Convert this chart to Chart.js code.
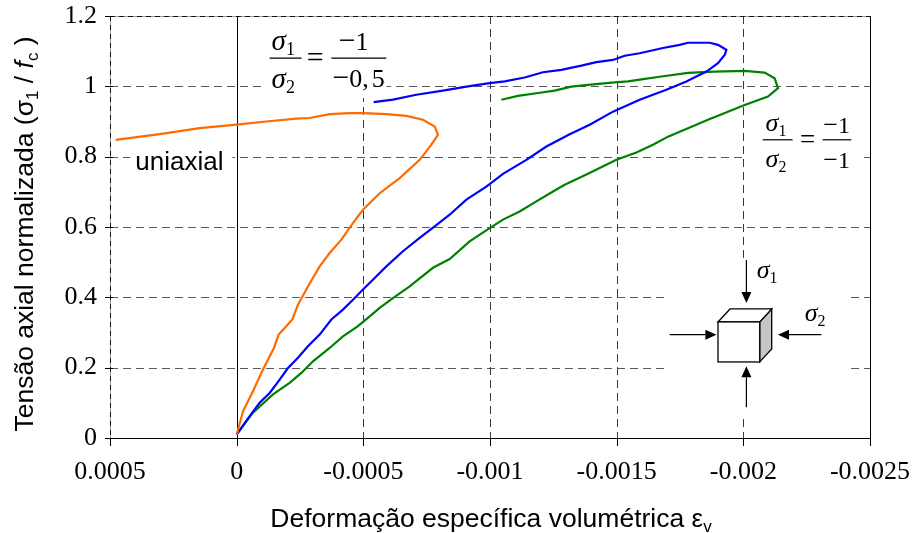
<!DOCTYPE html>
<html>
<head>
<meta charset="utf-8">
<script src="https://cdn.jsdelivr.net/npm/chart.js@4.4.1/dist/chart.umd.min.js"></script>
<style>
  html, body { margin: 0; padding: 0; background: #fff; }
  #wrap { width: 915px; height: 533px; }
</style>
</head>
<body>
<div id="wrap"><canvas id="c" width="915" height="533"></canvas></div>
<script>
// ---- tick values / labels ----
const xTickValues = [0.0005, 0, -0.0005, -0.001, -0.0015, -0.002, -0.0025];
const xTickLabels = ['0.0005', '0', '-0.0005', '-0.001', '-0.0015', '-0.002', '-0.0025'];
const yTickValues = [0, 0.2, 0.4, 0.6, 0.8, 1, 1.2];
const yTickLabels = ['0', '0.2', '0.4', '0.6', '0.8', '1', '1.2'];

// ---- series: uniaxial ----
const uniaxialX = [0, -0.0000249, -0.0000643, -0.0001038, -0.0001472, -0.0001658, -0.0001895, -0.0002199,
  -0.000242, -0.0002814, -0.0003276, -0.0003671, -0.0004133, -0.000459, -0.0004985, -0.0005645,
  -0.0006434, -0.0007224, -0.0007686, -0.0007946, -0.0007816, -0.0007354, -0.0006699, -0.0005909,
  -0.0004985, -0.0004461, -0.0003671, -0.0002882, -0.0002357, -0.0001172, 0.0000012, 0.0001461,
  0.0003039, 0.0004776];
const uniaxialY = [0.010, 0.076, 0.133, 0.195, 0.256, 0.294, 0.313, 0.337,
  0.379, 0.431, 0.488, 0.526, 0.564, 0.611, 0.649, 0.696,
  0.739, 0.791, 0.834, 0.862, 0.886, 0.905, 0.916, 0.921,
  0.924, 0.924, 0.921, 0.910, 0.908, 0.900, 0.891, 0.881,
  0.864, 0.848];

// ---- series: sigma1/sigma2 = -1/-0,5 ----
const ratio05X = [0, -0.0000513, -0.0000908, -0.0001303, -0.0001697, -0.0002025, -0.000242, -0.0002814,
  -0.0003276, -0.0003738, -0.0004196, -0.0004591, -0.0004986, -0.0005447, -0.0005909, -0.0006564,
  -0.0007224, -0.0007816, -0.0008408, -0.0009067, -0.0009856, -0.0010512, -0.0011436, -0.0012225,
  -0.0013145, -0.0013934, -0.0014854, -0.0015908, -0.0016962, -0.0017751, -0.0018541, -0.0018999,
  -0.0019263, -0.001933, -0.0018999, -0.0018671, -0.0017815, -0.0017487, -0.0016828, -0.0015908,
  -0.0015316, -0.0014854, -0.0014199, -0.0013607, -0.0012817, -0.0012091, -0.0011368, -0.0010579,
  -0.0009987, -0.0009067, -0.0008143, -0.0007093, -0.000617, -0.0005408];
const ratio05Y = [0.010, 0.062, 0.100, 0.128, 0.166, 0.199, 0.228, 0.261,
  0.294, 0.337, 0.365, 0.393, 0.422, 0.455, 0.488, 0.531,
  0.569, 0.602, 0.635, 0.678, 0.715, 0.751, 0.791, 0.829,
  0.864, 0.891, 0.928, 0.962, 0.990, 1.014, 1.042, 1.066,
  1.089, 1.104, 1.118, 1.124, 1.124, 1.118, 1.109, 1.094,
  1.087, 1.075, 1.069, 1.059, 1.047, 1.040, 1.025, 1.014,
  1.009, 0.999, 0.988, 0.976, 0.962, 0.955];

// ---- series: sigma1/sigma2 = -1/-1 ----
const ratio1X = [0, -0.0000643, -0.0001433, -0.0002092, -0.0002554, -0.0003012, -0.0003671, -0.0004196,
  -0.0004788, -0.000525, -0.0005645, -0.000617, -0.0006829, -0.0007749, -0.0008408, -0.0009197,
  -0.0009987, -0.0010512, -0.0011171, -0.0011831, -0.0012486, -0.0012947, -0.0013804, -0.0014329,
  -0.0014988, -0.0015778, -0.0016433, -0.0017025, -0.0017815, -0.0018604, -0.0019393, -0.0020053,
  -0.0020972, -0.0021367, -0.0021237, -0.0020842, -0.0020053, -0.0018868, -0.0017815, -0.0016765,
  -0.0015975, -0.0015446, -0.0014921, -0.0013867, -0.0013212, -0.0012553, -0.0011893, -0.0011104,
  -0.0010449];
const ratio1Y = [0.010, 0.072, 0.124, 0.157, 0.185, 0.218, 0.256, 0.289,
  0.318, 0.346, 0.370, 0.398, 0.431, 0.484, 0.509, 0.559,
  0.597, 0.621, 0.644, 0.673, 0.701, 0.720, 0.749, 0.768,
  0.791, 0.812, 0.834, 0.857, 0.881, 0.905, 0.928, 0.947,
  0.971, 0.995, 1.023, 1.039, 1.044, 1.042, 1.038, 1.028,
  1.020, 1.014, 1.011, 1.004, 0.999, 0.988, 0.981, 0.973,
  0.962];

// ---- text ----
const xTitle = 'Deformação específica volumétrica ';
const yTitle = 'Tensão axial normalizada (';
const uniaxialLabel = 'uniaxial';

// ---- annotation anchors (data units) ----
const anchorUniaxial = [0.0004, 0.763];
const anchorFrac1 = [-0.00013, 1.08];
const anchorFrac2 = [-0.002076, 0.848];
const anchorCube = [-0.0019, 0.330];

const toXY = (xs, ys) => xs.map((v, i) => ({ x: v, y: ys[i] }));

const SANS = '"Liberation Sans", Arial, sans-serif';
const SERIF = '"Liberation Serif", "Times New Roman", serif';

function drawParts(ctx, parts, x, y, align) {
  let w = 0;
  parts.forEach(p => { ctx.font = p.font; p._w = ctx.measureText(p.t).width + (p.dx || 0); w += p._w; });
  let cx = align === 'center' ? x - w / 2 : (align === 'right' ? x - w : x);
  ctx.textAlign = 'left';
  parts.forEach(p => { ctx.font = p.font; ctx.fillText(p.t, cx, y + (p.dy || 0)); cx += p._w; });
}

function hline(ctx, x1, x2, y) { ctx.beginPath(); ctx.moveTo(x1, y); ctx.lineTo(x2, y); ctx.stroke(); }
function vline(ctx, x, y1, y2) { ctx.beginPath(); ctx.moveTo(x, y1); ctx.lineTo(x, y2); ctx.stroke(); }

function arrow(ctx, x1, y1, x2, y2) {
  const ang = Math.atan2(y2 - y1, x2 - x1);
  const hl = 11, hw = 5;
  const bx = x2 - hl * Math.cos(ang), by = y2 - hl * Math.sin(ang);
  ctx.beginPath(); ctx.moveTo(x1, y1); ctx.lineTo(bx, by); ctx.stroke();
  ctx.beginPath();
  ctx.moveTo(x2, y2);
  ctx.lineTo(bx + hw * Math.sin(ang), by - hw * Math.cos(ang));
  ctx.lineTo(bx - hw * Math.sin(ang), by + hw * Math.cos(ang));
  ctx.closePath(); ctx.fill();
}

function sigma(ctx, sub, x, y, size) {
  drawParts(ctx, [
    { t: 'σ', font: `italic ${size}px ${SERIF}` },
    { t: sub, font: `${Math.round(size * 0.62)}px ${SERIF}`, dy: 5 }
  ], x, y, 'left');
}

const decor = {
  id: 'decor',
  beforeDatasetsDraw(chart) {
    const { ctx, chartArea: a, scales: { x, y } } = chart;
    ctx.save();
    ctx.lineWidth = 1;
    // horizontal dashed grid
    ctx.strokeStyle = '#5a5a5a';
    ctx.setLineDash([8, 5]);
    yTickValues.forEach(v => {
      if (v <= 0 || v >= 1.2) return;
      const py = Math.round(y.getPixelForValue(v)) + 0.5;
      hline(ctx, a.left, a.right, py);
    });
    // vertical dashed grid
    ctx.strokeStyle = '#3a3a3a';
    xTickValues.forEach(v => {
      if (v === 0 || v === 0.0005 || v === -0.0025) return;
      const px = Math.round(x.getPixelForValue(v)) + 0.5;
      vline(ctx, px, a.top, a.bottom);
    });
    ctx.setLineDash([]);
    // frame top & left (gray with dark dashes)
    ctx.strokeStyle = '#9a9a9a';
    hline(ctx, a.left, a.right, a.top + 0.5);
    vline(ctx, a.left + 0.5, a.top, a.bottom);
    ctx.strokeStyle = '#111';
    ctx.setLineDash([5, 4]);
    hline(ctx, a.left, a.right, a.top + 0.5);
    vline(ctx, a.left + 0.5, a.top, a.bottom);
    ctx.setLineDash([]);
    // right & bottom solid
    ctx.strokeStyle = '#000';
    vline(ctx, a.right + 0.5, a.top, a.bottom + 1);
    hline(ctx, a.left, a.right + 1, a.bottom + 0.5);
    // zero vertical line
    const x0 = Math.round(x.getPixelForValue(0)) + 0.5;
    vline(ctx, x0, a.top, a.bottom);
    // tick marks
    xTickValues.forEach(v => {
      const px = Math.round(x.getPixelForValue(v)) + 0.5;
      vline(ctx, px, a.bottom, a.bottom + 8);
    });
    yTickValues.forEach(v => {
      const py = Math.round(y.getPixelForValue(v)) + 0.5;
      hline(ctx, a.left - 5, a.left + 3, py);
    });

    // white boxes behind annotations
    ctx.fillStyle = '#fff';
    const ux = x.getPixelForValue(anchorUniaxial[0]), uy = y.getPixelForValue(anchorUniaxial[1]);
    ctx.fillRect(ux - 5, uy - 22, 102, 28);
    const f1x = x.getPixelForValue(anchorFrac1[0]), f1y = y.getPixelForValue(anchorFrac1[1]);
    ctx.fillRect(f1x - 5, a.top + 1, 122, f1y + 40 - a.top - 1);
    const f2x = x.getPixelForValue(anchorFrac2[0]), f2y = y.getPixelForValue(anchorFrac2[1]);
    ctx.fillRect(f2x - 16, f2y - 28, 115, 60);
    const cx = x.getPixelForValue(anchorCube[0]), cy = y.getPixelForValue(anchorCube[1]);
    ctx.fillRect(cx - 50, cy - 64, 180, 157);
    ctx.restore();
  },
  afterDatasetsDraw(chart) {
    const { ctx, chartArea: a, scales: { x, y } } = chart;
    ctx.save();
    ctx.fillStyle = '#000';
    ctx.strokeStyle = '#000';
    ctx.textBaseline = 'alphabetic';

    // uniaxial label
    const ux = x.getPixelForValue(anchorUniaxial[0]), uy = y.getPixelForValue(anchorUniaxial[1]);
    ctx.font = `26px ${SANS}`;
    ctx.textAlign = 'left';
    ctx.fillText(uniaxialLabel, ux, uy);

    // fraction 1
    const f1x = x.getPixelForValue(anchorFrac1[0]), f1y = y.getPixelForValue(anchorFrac1[1]);
    sigma(ctx, '1', f1x + 2, f1y - 8, 29);
    sigma(ctx, '2', f1x + 2, f1y + 30, 29);
    ctx.lineWidth = 1.3;
    hline(ctx, f1x, f1x + 32, f1y);
    ctx.font = `30px ${SERIF}`;
    ctx.textAlign = 'center'; ctx.textBaseline = 'middle';
    ctx.fillText('=', f1x + 45.5, f1y + 1);
    ctx.textBaseline = 'alphabetic';
    hline(ctx, f1x + 61.7, f1x + 116.7, f1y);
    drawParts(ctx, [{ t: '−', font: `30px ${SERIF}` }, { t: '1', font: `26px ${SERIF}` }], f1x + 84, f1y - 8.3, 'center');
    drawParts(ctx, [{ t: '−', font: `30px ${SERIF}` }, { t: '0,', font: `26px ${SERIF}`, dx: 3 }, { t: '5', font: `26px ${SERIF}` }], f1x + 89, f1y + 28.4, 'center');

    // fraction 2
    const f2x = x.getPixelForValue(anchorFrac2[0]), f2y = y.getPixelForValue(anchorFrac2[1]);
    sigma(ctx, '1', f2x + 3, f2y - 8.3, 26);
    sigma(ctx, '2', f2x + 3, f2y + 27, 26);
    ctx.lineWidth = 1.2;
    hline(ctx, f2x, f2x + 30, f2y);
    ctx.font = `27px ${SERIF}`;
    ctx.textAlign = 'center'; ctx.textBaseline = 'middle';
    ctx.fillText('=', f2x + 45, f2y + 1);
    ctx.textBaseline = 'alphabetic';
    hline(ctx, f2x + 60, f2x + 88.7, f2y);
    drawParts(ctx, [{ t: '−', font: `26px ${SERIF}` }, { t: '1', font: `24px ${SERIF}` }], f2x + 74, f2y - 7, 'center');
    drawParts(ctx, [{ t: '−', font: `26px ${SERIF}` }, { t: '1', font: `24px ${SERIF}` }], f2x + 74, f2y + 28, 'center');

    // cube diagram
    const cx = x.getPixelForValue(anchorCube[0]), cy = y.getPixelForValue(anchorCube[1]);
    const w = 41.7, h = 40, dx = 12, dy = -13;
    ctx.lineWidth = 1.3;
    ctx.fillStyle = '#c6c6c6';
    ctx.beginPath();
    ctx.moveTo(cx + w, cy); ctx.lineTo(cx + w + dx, cy + dy); ctx.lineTo(cx + w + dx, cy + h + dy); ctx.lineTo(cx + w, cy + h);
    ctx.closePath(); ctx.fill(); ctx.stroke();
    ctx.fillStyle = '#fff';
    ctx.beginPath();
    ctx.moveTo(cx, cy); ctx.lineTo(cx + dx, cy + dy); ctx.lineTo(cx + w + dx, cy + dy); ctx.lineTo(cx + w, cy);
    ctx.closePath(); ctx.fill(); ctx.stroke();
    ctx.fillRect(cx, cy, w, h); ctx.strokeRect(cx, cy, w, h);
    ctx.fillStyle = '#000';
    ctx.lineWidth = 1.2;
    arrow(ctx, cx + 28.4, cy - 62, cx + 28.4, cy - 19);
    arrow(ctx, cx + 28.4, cy + 85.4, cx + 28.4, cy + 44.4);
    arrow(ctx, cx - 48.3, cy + 12.7, cx - 1.6, cy + 12.7);
    arrow(ctx, cx + 103.4, cy + 12.7, cx + 60, cy + 12.7);
    sigma(ctx, '1', cx + 38.7, cy - 44, 26);
    sigma(ctx, '2', cx + 86.7, cy - 0.6, 26);

    // axis titles
    ctx.fillStyle = '#000';
    drawParts(ctx, [
      { t: xTitle, font: `26.5px ${SANS}` },
      { t: 'ε', font: `26px ${SANS}` },
      { t: 'v', font: `17px ${SANS}`, dy: 5 }
    ], (a.left + a.right) / 2 + 1, 526.5, 'center');

    ctx.save();
    ctx.translate(33, 234);
    ctx.rotate(-Math.PI / 2);
    drawParts(ctx, [
      { t: yTitle, font: `26.5px ${SANS}` },
      { t: 'σ', font: `26.5px ${SANS}` },
      { t: '1', font: `17px ${SANS}`, dy: 5 },
      { t: ' / ', font: `26.5px ${SANS}` },
      { t: 'f', font: `italic 26.5px ${SANS}` },
      { t: 'c', font: `17px ${SANS}`, dy: 5 },
      { t: ' )', font: `26.5px ${SANS}` }
    ], 0, 0, 'center');
    ctx.restore();

    ctx.restore();
  }
};

const lbl = (vals, labels) => (value) => {
  const i = vals.findIndex(v => Math.abs(v - value) < 1e-9);
  return i >= 0 ? labels[i] : '';
};

new Chart(document.getElementById('c'), {
  type: 'scatter',
  data: {
    datasets: [
      { label: 'uniaxial', data: toXY(uniaxialX, uniaxialY), borderColor: '#ff6a00' },
      { label: 'σ1/σ2 = −1/−0,5', data: toXY(ratio05X, ratio05Y), borderColor: '#0000ff' },
      { label: 'σ1/σ2 = −1/−1', data: toXY(ratio1X, ratio1Y), borderColor: '#008000' }
    ].map(d => Object.assign(d, { showLine: true, pointRadius: 0, borderWidth: 2.2, fill: false, tension: 0 }))
  },
  options: {
    responsive: false,
    animation: false,
    devicePixelRatio: 1,
    layout: { padding: { left: 0, right: 45, top: 16, bottom: 0 } },
    plugins: { legend: { display: false }, tooltip: { enabled: false } },
    scales: {
      x: {
        type: 'linear', min: -0.0025, max: 0.0005, reverse: true,
        afterBuildTicks: s => { s.ticks = xTickValues.map(v => ({ value: v })); },
        afterFit: s => { s.height = 95; s.paddingLeft = 0; s.paddingRight = 0; },
        grid: { display: false, drawTicks: false },
        border: { display: false },
        ticks: { color: '#000', padding: 19, maxRotation: 0, autoSkip: false, font: { family: SERIF, size: 26 }, callback: lbl(xTickValues, xTickLabels) }
      },
      y: {
        type: 'linear', min: 0, max: 1.2,
        afterBuildTicks: s => { s.ticks = yTickValues.map(v => ({ value: v })); },
        afterFit: s => { s.width = 110; s.paddingTop = 0; s.paddingBottom = 0; },
        grid: { display: false, drawTicks: false },
        border: { display: false },
        ticks: { color: '#000', padding: 13, autoSkip: false, font: { family: SERIF, size: 26 }, callback: lbl(yTickValues, yTickLabels) }
      }
    }
  },
  plugins: [decor]
});
</script>
</body>
</html>
